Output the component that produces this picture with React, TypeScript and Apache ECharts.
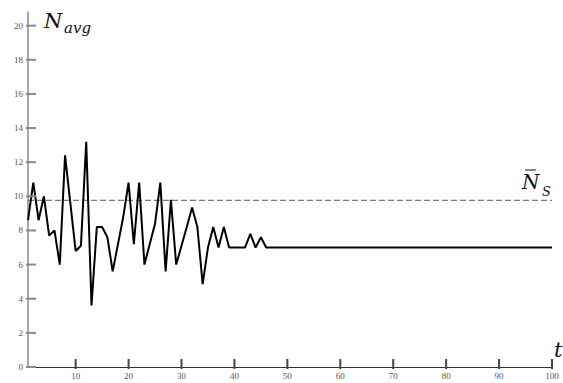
import React, { useEffect, useRef } from "react";
import * as echarts from "echarts";

const tValues: number[] = [
  1, 2, 3, 4, 5, 6, 7, 8, 9, 10, 11, 12, 13, 14, 15, 16, 17, 18, 19, 20,
  21, 22, 23, 24, 25, 26, 27, 28, 29, 30, 31, 32, 33, 34, 35, 36, 37, 38, 39, 40,
  41, 42, 43, 44, 45, 46, 47, 48, 49, 50, 51, 52, 53, 54, 55, 56, 57, 58, 59, 60,
  61, 62, 63, 64, 65, 66, 67, 68, 69, 70, 71, 72, 73, 74, 75, 76, 77, 78, 79, 80,
  81, 82, 83, 84, 85, 86, 87, 88, 89, 90, 91, 92, 93, 94, 95, 96, 97, 98, 99, 100,
];

const nAvg: number[] = [
  8.6, 10.8, 8.6, 10.0, 7.7, 8.0, 6.0, 12.4, 9.6, 6.8,
  7.1, 13.2, 3.6, 8.2, 8.2, 7.6, 5.6, 7.2, 8.8, 10.8,
  7.2, 10.8, 6.0, 7.2, 8.4, 10.8, 5.6, 9.8, 6.0, 7.1,
  8.2, 9.35, 8.2, 4.85, 7.0, 8.2, 7.0, 8.2, 7.0, 7.0,
  7.0, 7.0, 7.8, 7.0, 7.6, 7.0, 7.0, 7.0, 7.0, 7.0,
  7.0, 7.0, 7.0, 7.0, 7.0, 7.0, 7.0, 7.0, 7.0, 7.0,
  7.0, 7.0, 7.0, 7.0, 7.0, 7.0, 7.0, 7.0, 7.0, 7.0,
  7.0, 7.0, 7.0, 7.0, 7.0, 7.0, 7.0, 7.0, 7.0, 7.0,
  7.0, 7.0, 7.0, 7.0, 7.0, 7.0, 7.0, 7.0, 7.0, 7.0,
  7.0, 7.0, 7.0, 7.0, 7.0, 7.0, 7.0, 7.0, 7.0, 7.0,
];

const nsLevel = 9.76;
const xTicks: number[] = [10, 20, 30, 40, 50, 60, 70, 80, 90, 100];
const yTicks: number[] = [0, 2, 4, 6, 8, 10, 12, 14, 16, 18, 20];

export default function App() {
  const ref = useRef<HTMLDivElement>(null);
  useEffect(() => {
    if (!ref.current) return;
    const chart = echarts.init(ref.current, undefined, { renderer: "svg" });
    const tickFont = "Liberation Sans Narrow";
    const serif = "DejaVu Serif";
    const txt = (text: string, left: number, top: number, size: number) => ({
      type: "text",
      left,
      top,
      style: { text, fontStyle: "italic", fontSize: size, fontFamily: serif, fill: "#111111" },
    });
    chart.setOption({
      animation: false,
      backgroundColor: "#ffffff",
      grid: { left: 28, right: 11, top: 12, bottom: 16, containLabel: false },
      xAxis: {
        type: "value",
        min: 1,
        max: 100,
        splitLine: { show: false },
        axisLine: { show: true, onZero: false, lineStyle: { color: "#333333", width: 1 } },
        axisTick: { show: false },
        axisLabel: { show: true, customValues: xTicks, color: "#555555", fontSize: 9, fontFamily: tickFont, margin: 4 },
      },
      yAxis: {
        type: "value",
        min: 0,
        max: 20.8,
        splitLine: { show: false },
        axisLine: { show: true, onZero: false, lineStyle: { color: "#8a8a8a", width: 1.5 } },
        axisTick: { show: false },
        axisLabel: { show: true, customValues: yTicks, color: "#555555", fontSize: 9, fontFamily: tickFont, margin: 5 },
      },
      series: [
        {
          type: "line",
          data: [[tValues[0], nsLevel], [tValues[tValues.length - 1], nsLevel]],
          symbol: "none",
          lineStyle: { color: "#7a7a7a", width: 1.2, type: [6, 3] },
          z: 1,
        },
        {
          type: "line",
          data: tValues.map((t, i) => [t, nAvg[i]]),
          symbol: "none",
          lineStyle: { color: "#000000", width: 2 },
          z: 2,
        },
        {
          type: "line",
          silent: true,
          data: xTicks.map((v) => [v, 0]),
          symbol: "rect",
          symbolSize: [2, 10],
          symbolOffset: [0, -3],
          showAllSymbol: true,
          lineStyle: { width: 0, opacity: 0 },
          itemStyle: { color: "#444444" },
          clip: false,
          z: 5,
        },
        {
          type: "line",
          silent: true,
          data: yTicks.map((v) => [tValues[0], v]),
          symbol: "rect",
          symbolSize: [10, 2],
          symbolOffset: [3, 0],
          showAllSymbol: true,
          lineStyle: { width: 0, opacity: 0 },
          itemStyle: { color: "#888888" },
          clip: false,
          z: 5,
        },
      ],
      graphic: [
        txt("N", 44, 10, 21),
        txt("avg", 64, 20, 15),
        txt("N", 522, 172, 20),
        { type: "line", shape: { x1: 525, y1: 170, x2: 536, y2: 170 }, style: { stroke: "#111111", lineWidth: 1 } },
        txt("S", 542, 185, 13),
        txt("t", 554, 339, 21),
      ],
    });
    return () => chart.dispose();
  }, []);
  return (
    <div
      ref={ref}
      style={{ position: "fixed", left: 0, top: 0, width: 563, height: 383, background: "#fff" }}
    />
  );
}
